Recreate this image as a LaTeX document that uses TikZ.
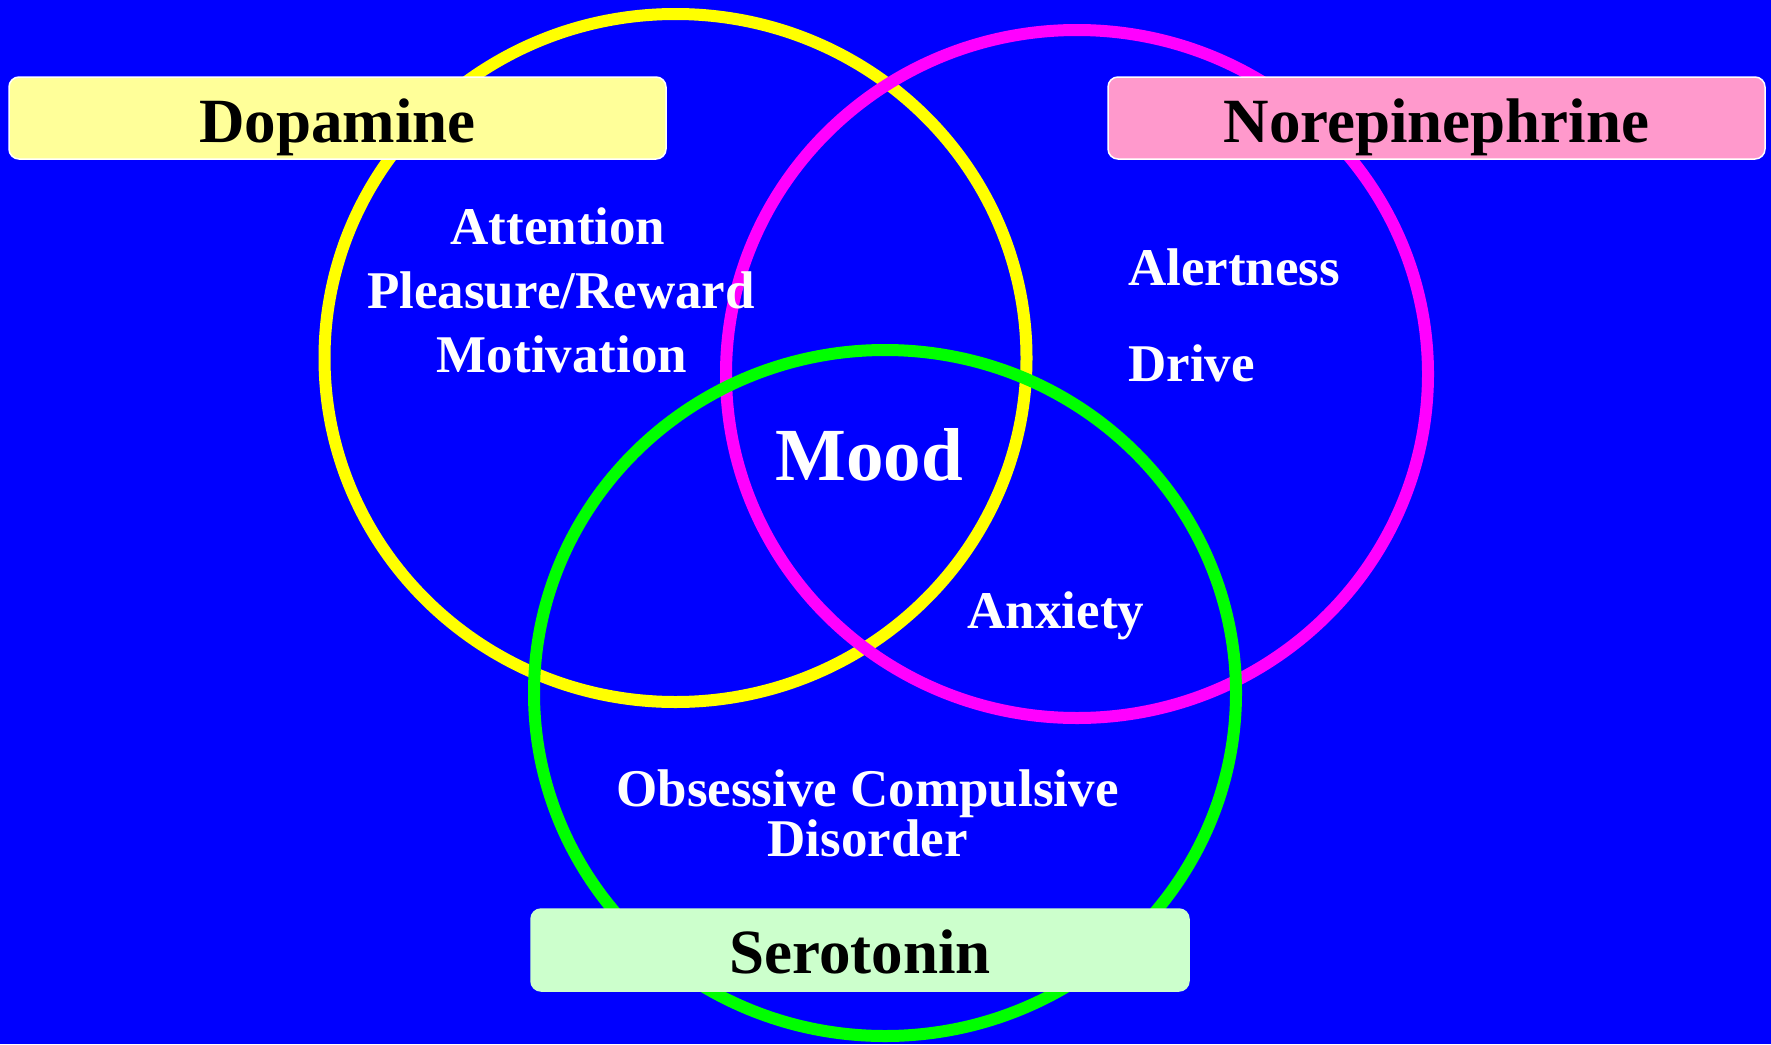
\documentclass[tikz,border=0pt]{standalone}
\usepackage{fontspec}
\setmainfont{Liberation Serif}
\definecolor{bgblue}{HTML}{0000FF}
\definecolor{cyel}{HTML}{FFFF00}
\definecolor{cmag}{HTML}{FF00FF}
\definecolor{cgrn}{HTML}{00FF00}
\definecolor{boxyel}{HTML}{FFFF99}
\definecolor{boxpink}{HTML}{FF99CC}
\definecolor{boxgrn}{HTML}{CCFFCC}
\tikzset{
  ring/.style={line width=12pt},
  labelbox/.style={rounded corners=10pt, draw=white, line width=1.5pt, minimum height=82pt, inner sep=0pt, text height=48pt, text depth=0pt, font=\bfseries\fontsize{63}{70}\selectfont, text=black},
  lbl/.style={inner sep=0pt, text=white, font=\bfseries\fontsize{53}{64}\selectfont, anchor=base},
}
\begin{document}
\begin{tikzpicture}[x=1pt,y=-1pt]
\fill[bgblue] (0,0) rectangle (1771,1044);
\useasboundingbox (0,0) rectangle (1771,1044);
% circles
\draw[ring, cyel] (675.5,358) ellipse [x radius=351, y radius=344];
\draw[ring, cmag] (1077,374) ellipse [x radius=351, y radius=344];
\draw[ring, cgrn] (885,693) ellipse [x radius=351, y radius=343];
% boxes
\node[labelbox, fill=boxyel, minimum width=657pt] (dop) at (337.5,118) {Dopamine};
\node[labelbox, fill=boxpink, minimum width=657pt] (nor) at (1436.5,118) {Norepinephrine};
\node[labelbox, fill=boxgrn, draw=boxgrn, minimum width=658pt, text height=46pt] (ser) at (860,950) {Serotonin};
% texts
\node[lbl] (att) at (558,244) {Attention};
\node[lbl] (ple) at (561,308) {Pleasure/Reward};
\node[lbl] (mot) at (562,372) {Motivation};
\node[lbl, anchor=base west] (ale) at (1128,285) {Alertness};
\node[lbl, anchor=base west] (dri) at (1128,381) {Drive};
\node[lbl, font=\bfseries\fontsize{75}{80}\selectfont] (mood) at (869,480) {Mood};
\node[lbl] (anx) at (1056,628) {Anxiety};
\node[lbl] (ocd) at (867.5,806) {Obsessive Compulsive};
\node[lbl] (dis) at (867.5,856) {Disorder};
\end{tikzpicture}
\end{document}
